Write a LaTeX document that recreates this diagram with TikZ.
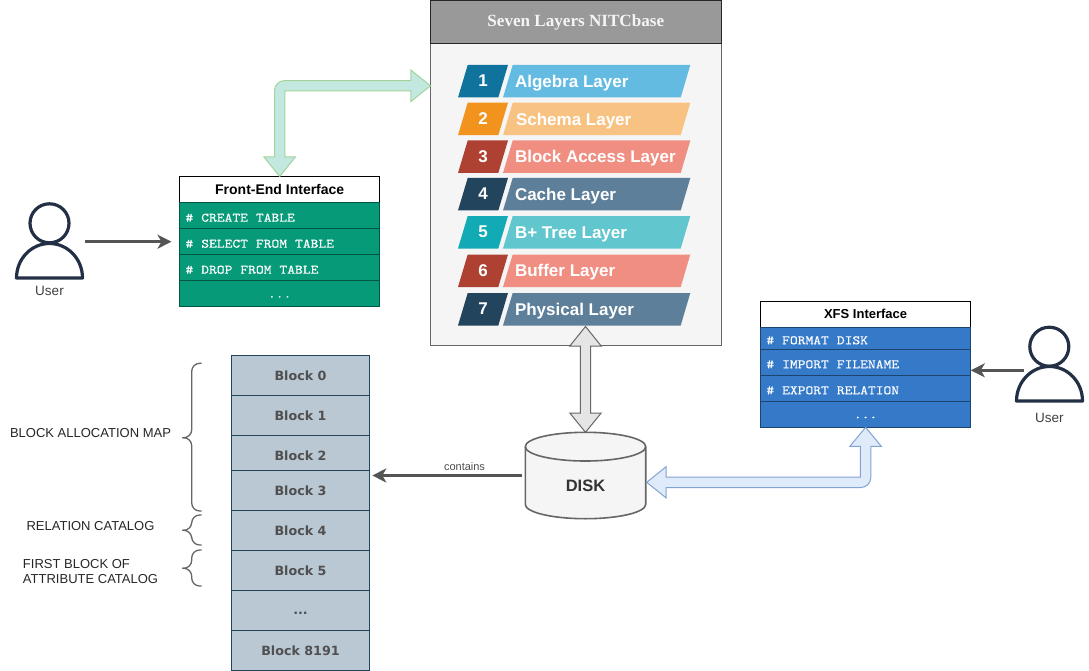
\documentclass[tikz,border=0pt]{standalone}
\usepackage{fontspec}
\setmainfont{Liberation Sans}
\newfontfamily\monof[FakeStretch=1.14,FakeBold=0.25]{lmmono10-regular.otf}
\newfontfamily\blockf{DejaVu Sans}
\newfontfamily\titlef{Liberation Serif}
\usetikzlibrary{arrows.meta,calc}
\newcommand\msp{\hspace{8pt}}
\definecolor{fegreen}{HTML}{069A78}
\definecolor{xfsblue}{HTML}{3579C9}
\definecolor{iconc}{HTML}{232F45}
\definecolor{arrc}{HTML}{555555}
\definecolor{blockedge}{HTML}{23445D}
\definecolor{blockfill}{HTML}{BAC8D3}
\definecolor{blocktext}{HTML}{505050}
\definecolor{greenf}{HTML}{C2E8DF}
\definecolor{greend}{HTML}{A3D39C}
\definecolor{bluef}{HTML}{DFEAFB}
\definecolor{blued}{HTML}{82A3D3}
\tikzset{
  every node/.style={inner sep=0pt,outer sep=0pt},
  headbox/.style={draw=black,line width=1pt,fill=white,anchor=north west,font=\fontsize{13}{13}\selectfont\bfseries,text=black},
  rowbox/.style={draw=#1!55!black,line width=1pt,fill=#1,anchor=north west,align=left,font=\fontsize{13}{13}\selectfont\monof,text=white,text height=12pt,text depth=0pt},
  blockbox/.style={draw=blockedge,line width=1pt,fill=blockfill,anchor=north west,minimum width=137.6pt,font=\fontsize{12.7}{13}\selectfont\blockf\bfseries,text=blocktext,text height=10.8pt,text depth=0pt},
  capt/.style={font=\fontsize{13}{15}\selectfont,text=black!85},
  userlab/.style={font=\fontsize{13.5}{14}\selectfont,text=black!75},
  brc/.style={draw=black!60,line width=1.3pt,rounded corners=8pt},
  icon/.style={draw=iconc,line width=3.2pt},
  conn/.style={draw=arrc,line width=2.8pt,-{Stealth[length=14pt,width=14pt,inset=4pt]}},
}
\begin{document}
\begin{tikzpicture}[x=1pt,y=-1pt]
\useasboundingbox (0,0) rectangle (1089,671);
% main panel
\node[draw=black!60,line width=1pt,fill=black!4,anchor=north west,minimum width=290.5pt,minimum height=345pt] (panel) at (430.5,0.5) {};
\node[draw=black!85,line width=1pt,fill=black!40,anchor=north west,minimum width=290.5pt,minimum height=43pt,font=\fontsize{17.1}{17}\selectfont\titlef\bfseries,text=black!4] (panelhead) at (430.5,0.5) {Seven Layers NITCbase};
% layers
\foreach \i/\y/\cd/\cl/\t/\xx in {1/65/10739E/64BBE2/Algebra Layer/515,2/102.7/F2931E/F8C382/Schema Layer/516,3/140.5/AE4132/F08E81/Block Access Layer/515,4/178/23445D/5D7F99/Cache Layer/515,5/216/12AAB5/61C6CE/B+ Tree Layer/515,6/254.5/AE4132/F08E81/Buffer Layer/515,7/293/23445D/5D7F99/Physical Layer/515}{
  \definecolor{cd}{HTML}{\cd}\definecolor{cl}{HTML}{\cl}
  \fill[cd] (458,\y+32.5) -- (467.7,\y) -- (508,\y) -- (498.3,\y+32.5) -- cycle;
  \fill[cl] (503,\y+32.5) -- (512.7,\y) -- (690.3,\y) -- (680.7,\y+32.5) -- cycle;
  \node[text=white,font=\fontsize{17}{17}\selectfont\bfseries] (num\i) at (483,\y+16) {\i};
  \node[anchor=west,text=white,font=\fontsize{17}{17}\selectfont\bfseries] (lay\i) at (\xx,\y+18) {\t};
}
% Front-end
\node[headbox,minimum width=200.4pt,minimum height=26pt,font=\fontsize{14}{14}\selectfont\bfseries] (fehead) at (179.5,176.5) {Front-End Interface};
\foreach \i/\y/\t in {1/202.7/\#\msp CREATE\msp TABLE,2/228.7/\#\msp SELECT\msp FROM\msp TABLE,3/254.7/\#\msp DROP\msp FROM\msp TABLE}{
  \node[rowbox=fegreen,minimum height=26pt,text width=188.4pt,inner xsep=6pt] (fe\i) at (179.5,\y) {\t};
}
\node[rowbox=fegreen,minimum height=26pt,minimum width=200.4pt,align=center,text height=8pt] (fe4) at (179.5,280.7) {...};
% XFS
\node[headbox,minimum width=210.4pt,minimum height=26pt] (xfshead) at (760.4,301.3) {XFS Interface};
\foreach \i/\y/\h/\t in {1/327.3/22/\#\msp FORMAT\msp DISK,2/349.3/26/\#\msp IMPORT\msp FILENAME,3/375.3/26/\#\msp EXPORT\msp RELATION}{
  \node[rowbox=xfsblue,minimum height=\h pt,text width=198.4pt,inner xsep=6pt] (xfs\i) at (760.4,\y) {\t};
}
\node[rowbox=xfsblue,minimum height=26pt,minimum width=210.4pt,align=center,text height=8pt] (xfs4) at (760.4,401.3) {...};
% blocks
\foreach \i/\y/\h/\t in {0/355.3/40/Block 0,1/395.3/40/Block 1,2/435.3/40/Block 2,3/470.3/40/Block 3,4/510.3/40/Block 4,5/550.3/40/Block 5,7/630.3/40/Block 8191}{
  \node[blockbox,minimum height=\h pt] (block\i) at (231.7,\y) {\t};
}
\node[blockbox,minimum height=40pt,text height=8pt] (block6) at (231.7,590.3) {...};
% braces
\draw[brc] (201.7,363.3) -- (191.7,363.3) -- (191.7,437.7) -- (182.3,437.7);
\draw[brc] (182.3,437.7) -- (191.7,437.7) -- (191.7,511) -- (201.7,511);
\draw[brc] (201.7,515) -- (191.7,515) -- (191.7,530.3) -- (182.3,530.3);
\draw[brc] (182.3,530.3) -- (191.7,530.3) -- (191.7,545) -- (201.7,545);
\draw[brc] (201.7,550) -- (191.7,550) -- (191.7,568.3) -- (182.3,568.3);
\draw[brc] (182.3,568.3) -- (191.7,568.3) -- (191.7,586) -- (201.7,586);
\node[capt] (bam) at (90.5,433.5) {BLOCK ALLOCATION MAP};
\node[capt] (relcat) at (90.5,526) {RELATION CATALOG};
\node[capt,anchor=north west,align=left] (attrcat) at (23,559.5) {FIRST BLOCK OF\\ATTRIBUTE CATALOG};
% users
\node[minimum width=69pt,minimum height=77pt] (user1) at (49.5,241) {};
\draw[icon] (49.5,223.3) circle (19.5);
\draw[icon,line join=round] (16.5,278) arc[start angle=180,end angle=0,x radius=33,y radius=-34.5] -- cycle;
\node[userlab] (user1label) at (49.5,291) {User};
\node[minimum width=69pt,minimum height=77pt] (user2) at (1049.5,364.5) {};
\draw[icon] (1049.3,346.7) circle (19.5);
\draw[icon,line join=round] (1016.5,401) arc[start angle=180,end angle=0,x radius=33,y radius=-34.5] -- cycle;
\node[userlab] (user2label) at (1049.3,418) {User};
% disk
\node[minimum width=120.4pt,minimum height=86.4pt] (disk) at (585.5,475.5) {};
\draw[draw=black!60,line width=1.6pt,fill=black!4] (525.3,446.6) .. controls (525.3,438.7) and (552,432.3) .. (585.5,432.3) .. controls (619,432.3) and (645.7,438.7) .. (645.7,446.6) -- (645.7,504.4) .. controls (645.7,512.3) and (619,518.7) .. (585.5,518.7) .. controls (552,518.7) and (525.3,512.3) .. (525.3,504.4) -- cycle;
\draw[draw=black!60,line width=1.6pt] (525.3,446.6) .. controls (525.3,454.5) and (552,461) .. (585.5,461) .. controls (619,461) and (645.7,454.5) .. (645.7,446.6);
\node[font=\fontsize{16.5}{17}\selectfont\bfseries,text=black!80] (disklabel) at (585.5,485.5) {DISK};
% straight connectors
\path (user1.east) ++(1,0.7) coordinate (u1s);
\path (user2.west) ++(9.3,5.8) coordinate (u2s);
\path (disk.west) ++(-3.5,0) coordinate (ds);
\draw[conn] (u1s) -- ([xshift=-8pt]fe1.west |- u1s);
\draw[conn] (u2s) -- (xfs2.east |- u2s);
\draw[conn] (ds) -- ([xshift=3pt]block3.east |- ds);
\node[font=\fontsize{11}{11}\selectfont,text=black!70] (contains) at (464.5,467) {contains};
% green flex arrow
\coordinate (ga) at (fehead.north);
\coordinate (gb) at ($(panel.north west)+(0,85.3)$);
\coordinate (gc) at (ga |- gb);
\draw[draw=greend,fill=greenf,line width=1pt] (ga) -- ([shift={(-15.7,-19.5)}]ga) -- ([shift={(-5.2,-19.5)}]ga) [rounded corners=10pt] -- ([shift={(-5.2,-5.2)}]gc) [sharp corners] -- ([shift={(-19.6,-5.2)}]gb) -- ([shift={(-19.6,-15.7)}]gb) -- (gb) -- ([shift={(-19.6,15.7)}]gb) -- ([shift={(-19.6,5.2)}]gb) -- ([shift={(5.2,5.2)}]gc) -- ([shift={(5.2,-19.5)}]ga) -- ([shift={(15.7,-19.5)}]ga) -- cycle;
% gray double arrow
\coordinate (ka) at (disk.north);
\coordinate (kb) at ($(ka |- panel.south)+(0,-19)$);
\draw[draw=black!60,fill=black!10,line width=1pt] (ka) -- ([shift={(-15.7,-19.3)}]ka) -- ([shift={(-5.2,-19.3)}]ka) -- ([shift={(-5.2,19.5)}]kb) -- ([shift={(-15.7,19.5)}]kb) -- (kb) -- ([shift={(15.7,19.5)}]kb) -- ([shift={(5.2,19.5)}]kb) -- ([shift={(5.2,-19.3)}]ka) -- ([shift={(15.7,-19.3)}]ka) -- cycle;
% blue flex arrow
\coordinate (ba) at ($(disk.east)+(1,6.8)$);
\coordinate (bb) at (xfs4.south);
\coordinate (bc) at (ba -| bb);
\draw[draw=blued,fill=bluef,line width=1pt] (ba) -- ([shift={(19.5,-15.7)}]ba) -- ([shift={(19.5,-5.2)}]ba) -- ([shift={(-5.2,-5.2)}]bc) -- ([shift={(-5.2,19)}]bb) -- ([shift={(-15.7,19)}]bb) -- (bb) -- ([shift={(15.7,19)}]bb) -- ([shift={(5.2,19)}]bb) [rounded corners=10pt] -- ([shift={(5.2,5.2)}]bc) [sharp corners] -- ([shift={(19.5,5.2)}]ba) -- ([shift={(19.5,15.7)}]ba) -- cycle;
\end{tikzpicture}
\end{document}
